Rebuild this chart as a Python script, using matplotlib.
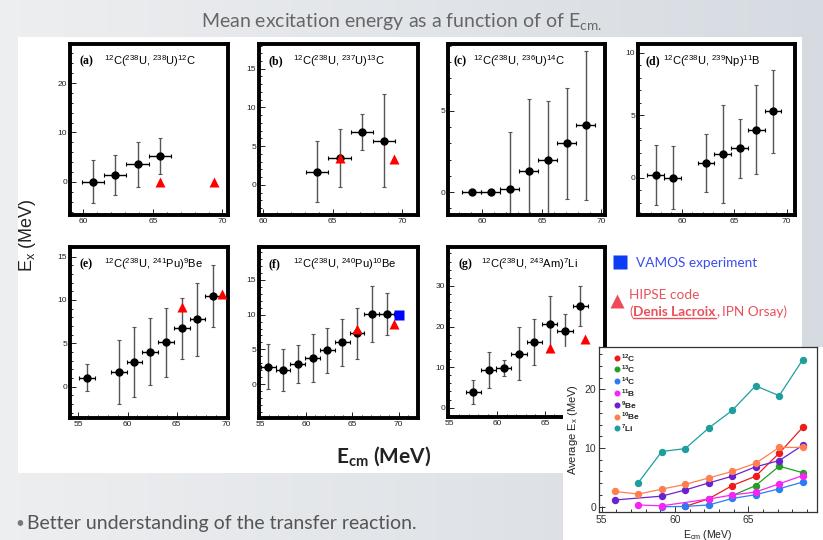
import numpy as np
import matplotlib
matplotlib.use("Agg")
import matplotlib.pyplot as plt
from matplotlib.patches import Rectangle
from matplotlib.lines import Line2D
from matplotlib.transforms import IdentityTransform
from matplotlib.ticker import MultipleLocator

W, H = 823, 540
plt.rcParams['font.family'] = ['Liberation Sans', 'DejaVu Sans']

# ---------------- data ----------------
labels = ['(a)', '(b)', '(c)', '(d)', '(e)', '(f)', '(g)']
reactions = [r'$^\mathregular{12}$C($^\mathregular{238}$U, $^\mathregular{238}$U)$^\mathregular{12}$C',
             r'$^\mathregular{12}$C($^\mathregular{238}$U, $^\mathregular{237}$U)$^\mathregular{13}$C',
             r'$^\mathregular{12}$C($^\mathregular{238}$U, $^\mathregular{236}$U)$^\mathregular{14}$C',
             r'$^\mathregular{12}$C($^\mathregular{238}$U, $^\mathregular{239}$Np)$^\mathregular{11}$B',
             r'$^\mathregular{12}$C($^\mathregular{238}$U, $^\mathregular{241}$Pu)$^\mathregular{9}$Be',
             r'$^\mathregular{12}$C($^\mathregular{238}$U, $^\mathregular{240}$Pu)$^\mathregular{10}$Be',
             r'$^\mathregular{12}$C($^\mathregular{238}$U, $^\mathregular{243}$Am)$^\mathregular{7}$Li']

x_a = [60.7, 62.3, 63.9, 65.5]
y_a = [0.05, 1.35, 3.6, 5.2]
ey_a = [4.4, 4.1, 4.55, 3.7]
hx_a = [65.5, 69.4]
hy_a = [0.0, 0.0]

x_b = [63.9, 65.5, 67.1, 68.7]
y_b = [1.7, 3.45, 6.8, 5.7]
ey_b = [3.9, 3.7, 2.35, 6.0]
hx_b = [65.5, 69.4]
hy_b = [3.45, 3.3]

x_c = [59.1, 60.7, 62.3, 63.9, 65.5, 67.1, 68.7]
y_c = [0.0, 0.0, 0.2, 1.3, 2.0, 3.0, 4.1]
ey_c = [0.0, 0.0, 3.5, 4.4, 3.6, 3.4, 4.6]

x_d = [57.5, 59.1, 62.3, 63.9, 65.5, 67.1, 68.7]
y_d = [0.2, 0.0, 1.15, 1.9, 2.35, 3.85, 5.3]
ey_d = [2.4, 2.5, 2.3, 3.9, 2.35, 3.55, 3.35]

x_e = [55.9, 59.1, 60.7, 62.3, 63.9, 65.5, 67.1, 68.7]
y_e = [1.05, 1.7, 2.85, 4.05, 5.1, 6.75, 7.75, 10.45]
ey_e = [1.55, 3.7, 4.0, 3.9, 3.95, 3.5, 4.15, 3.55]
hx_e = [65.5, 69.6]
hy_e = [9.2, 10.65]

x_f = [55.9, 57.5, 59.1, 60.7, 62.3, 63.9, 65.5, 67.1, 68.7]
y_f = [2.55, 2.05, 2.9, 3.75, 4.85, 6.0, 7.3, 10.05, 10.05]
ey_f = [3.2, 3.0, 2.75, 3.45, 3.2, 3.4, 3.7, 4.0, 3.05]
hx_f = [65.5, 69.5]
hy_f = [7.9, 8.65]
vx_f = [70.0]
vy_f = [9.9]

x_g = [57.5, 59.1, 60.7, 62.3, 63.9, 65.5, 67.1, 68.7]
y_g = [3.85, 9.25, 9.85, 13.35, 16.2, 20.6, 18.9, 25.0]
ey_g = [3.05, 4.5, 1.95, 6.45, 5.75, 6.9, 4.2, 4.9]
hx_g = [65.5, 69.2]
hy_g = [14.8, 17.0]

xerr_all = 0.8

# inset (average Ex vs Ecm)
inset_names = [r'$^\mathregular{12}$C', r'$^\mathregular{13}$C', r'$^\mathregular{14}$C', r'$^\mathregular{11}$B',
               r'$^\mathregular{9}$Be', r'$^\mathregular{10}$Be', r'$^\mathregular{7}$Li']
ix_12C = [60.7, 62.3, 63.9, 65.5, 67.1, 68.7]
iy_12C = [0.05, 1.35, 3.6, 5.2, 9.1, 13.5]
ix_13C = [63.9, 65.5, 67.1, 68.7]
iy_13C = [1.9, 3.6, 6.9, 5.8]
ix_14C = [59.1, 60.7, 62.3, 63.9, 65.5, 67.1, 68.7]
iy_14C = [0.0, 0.05, 0.3, 1.4, 2.05, 3.05, 4.2]
ix_11B = [57.5, 59.1, 62.3, 63.9, 65.5, 67.1, 68.7]
iy_11B = [0.3, 0.15, 1.3, 2.0, 2.5, 3.9, 5.3]
ix_9Be = [55.9, 59.1, 60.7, 62.3, 63.9, 65.5, 67.1, 68.7]
iy_9Be = [1.15, 1.8, 2.85, 4.05, 5.2, 6.8, 7.85, 10.45]
ix_10Be = [55.9, 57.5, 59.1, 60.7, 62.3, 63.9, 65.5, 67.1, 68.7]
iy_10Be = [2.6, 2.15, 3.0, 3.8, 4.9, 6.0, 7.4, 10.1, 10.1]
ix_7Li = [57.5, 59.1, 60.7, 62.3, 63.9, 65.5, 67.1, 68.7]
iy_7Li = [4.1, 9.4, 9.9, 13.4, 16.4, 20.6, 18.9, 25.0]
inset_colors = ['#f01a1a', '#21a021', '#2a7df5', '#f524f5', '#6a22d0', '#ff7f50', '#1f9e9e']

# ---------------- figure ----------------
fig = plt.figure(figsize=(W / 100, H / 100), dpi=100)


def rect(L, R, T, B):
    return [L / W, 1 - B / H, (R - L) / W, (B - T) / H]


def ptext(x, y, s, **kw):
    return fig.text(x, H - y, s, transform=IdentityTransform(), **kw)


# background
bg = fig.add_axes([0, 0, 1, 1], zorder=-3)
gx = np.linspace(0, 1, 200)
c0 = np.array([0.93, 0.935, 0.94])
c1 = np.array([0.84, 0.86, 0.885])
img = (c0[None, None, :] * (1 - gx[None, :, None]) + c1[None, None, :] * gx[None, :, None])
img = np.repeat(img, 2, axis=0)
bg.imshow(img, aspect='auto', extent=[0, 1, 0, 1])
bg.set_axis_off()
fig.patches.append(Rectangle((18 / W, 1 - 473 / H), (802 - 18) / W, (473 - 37) / H,
                             transform=fig.transFigure, facecolor='white', edgecolor='none', zorder=-2))

panel_rects = [(70, 228, 44, 215), (259, 418, 44, 215), (448, 605, 44, 215), (638, 795, 44, 215),
               (70, 228, 247, 418), (259, 418, 247, 418), (448, 605, 247, 417)]
xlims = [(59.05, 70.4), (59.7, 71.15), (57.1, 70.3), (55.8, 70.8), (54.15, 70.2), (54.9, 72.1), (54.85, 71.3)]
ylims = [(-6.7, 27.9), (-3.9, 18.2), (-1.4, 9.1), (-3.0, 10.7), (-3.6, 16.1), (-4.84, 19.7), (-2.3, 39.6)]
ymaj = [10, 5, 5, 5, 5, 5, 10]
ymin = [2, 1, 1, 1, 1, 1, 2]
lab_x = [0.063, 0.057, 0.035, 0.045, 0.063, 0.057, 0.07]
rea_x = [0.215, 0.215, 0.16, 0.16, 0.215, 0.215, 0.21]

data = [(x_a, y_a, ey_a), (x_b, y_b, ey_b), (x_c, y_c, ey_c), (x_d, y_d, ey_d),
        (x_e, y_e, ey_e), (x_f, y_f, ey_f), (x_g, y_g, ey_g)]
hipse = {0: (hx_a, hy_a), 1: (hx_b, hy_b), 4: (hx_e, hy_e), 5: (hx_f, hy_f), 6: (hx_g, hy_g)}

for i, (L, R, T, B) in enumerate(panel_rects):
    ax = fig.add_axes(rect(L, R, T, B))
    ax.set_xlim(*xlims[i])
    ax.set_ylim(*ylims[i])
    for s in ax.spines.values():
        s.set_linewidth(2.8)
        s.set_color('black')
    ax.xaxis.set_major_locator(MultipleLocator(5))
    ax.xaxis.set_minor_locator(MultipleLocator(1))
    ax.yaxis.set_major_locator(MultipleLocator(ymaj[i]))
    ax.yaxis.set_minor_locator(MultipleLocator(ymin[i]))
    ax.tick_params(which='both', direction='in', top=False, right=False, width=0.7,
                   labelsize=6, pad=2, colors='#222222')
    ax.tick_params(which='major', length=4)
    ax.tick_params(which='minor', length=2)
    x, y, ey = data[i]
    ax.errorbar(x, y, yerr=ey, fmt='none', ecolor='#555555', elinewidth=1.0, capsize=1.5, capthick=0.8)
    ax.errorbar(x, y, xerr=xerr_all, fmt='none', ecolor='black', elinewidth=1.0, capsize=1.5, capthick=0.8)
    ax.plot(x, y, 'o', color='black', ms=5, zorder=4)
    if i in hipse:
        hx, hy = hipse[i]
        ax.plot(hx, hy, '^', color='#ff0000', ms=7, mec='none', zorder=5, clip_on=False)
    if i == 5:
        ax.plot(vx_f, vy_f, 's', color='#0000ff', ms=6.5, mec='none', zorder=6, clip_on=False)
    ax.text(lab_x[i], 0.90, labels[i], transform=ax.transAxes, fontfamily='Liberation Serif',
            fontweight='bold', fontsize=8.5, va='center', ha='left')
    ax.text(rea_x[i], 0.90, reactions[i], transform=ax.transAxes, fontsize=8, va='center', ha='left')

# inset
fig.patches.append(Rectangle((563 / W, 0), (823 - 563) / W, (540 - 347) / H,
                             transform=fig.transFigure, facecolor='white', edgecolor='none', zorder=1.5))
axi = fig.add_axes(rect(599, 817, 347, 512))
axi.set_zorder(2)
axi.set_xlim(54.82, 69.68)
axi.set_ylim(-0.9, 27.2)
for s in axi.spines.values():
    s.set_linewidth(0.9)
    s.set_color('#333333')
axi.xaxis.set_major_locator(MultipleLocator(5))
axi.xaxis.set_minor_locator(MultipleLocator(1))
axi.yaxis.set_major_locator(MultipleLocator(10))
axi.yaxis.set_minor_locator(MultipleLocator(2))
axi.tick_params(which='both', direction='in', top=False, right=False, width=0.7,
                labelsize=7.5, pad=2, colors='#333333')
axi.tick_params(which='major', length=4)
axi.tick_params(which='minor', length=2)
series = [(ix_12C, iy_12C), (ix_13C, iy_13C), (ix_14C, iy_14C), (ix_11B, iy_11B),
          (ix_9Be, iy_9Be), (ix_10Be, iy_10Be), (ix_7Li, iy_7Li)]
for k, (sx, sy) in enumerate(series):
    axi.plot(sx, sy, '-o', color=inset_colors[k], lw=0.9, ms=4.3)
leg_y0 = 357.5
for k in range(7):
    yy = leg_y0 + 11.8 * k
    fy = 1 - (yy - 347) / (512 - 347)
    fx = (616.7 - 599) / (817 - 599)
    axi.plot([fx], [fy], 'o', color=inset_colors[k], ms=3.3, transform=axi.transAxes, clip_on=False)
    axi.text(fx + 0.02, fy, inset_names[k], transform=axi.transAxes, fontsize=6,
             fontweight='bold', va='center', ha='left', color='#222222')
axi.set_ylabel(r'Average E$_\mathregular{x}$ (MeV)', fontsize=8, labelpad=3, color='#222222')
axi.set_xlabel(r'E$_\mathregular{cm}$ (MeV)', fontsize=7.5, labelpad=2, color='#222222')

# slide texts
ptext(401, 22, r'Mean excitation energy as a function of of E$_\mathregular{cm.}$', fontfamily='Lato',
      fontsize=14, color='#666666', ha='center', va='center')
ptext(28, 235, r'E$_\mathregular{x}$ (MeV)', fontsize=13, rotation=90, ha='center', va='center',
      color='#222222')
ptext(384, 457, r'E$_\mathregular{cm}$ (MeV)', fontfamily='Lato', fontweight='bold', fontsize=15,
      ha='center', va='center', color='#222222')
ptext(15, 524, '\u2022', fontfamily='Lato', fontsize=11, color='#777777', ha='left', va='center')
ptext(27, 523, 'Better understanding of the transfer reaction.', fontfamily='Lato', fontsize=14,
      color='#555555', ha='left', va='center')

# legend
fig.add_artist(Line2D([620 / W], [1 - 262 / H], marker='s', ms=10, color='#0d3cf5', mec='none',
                      transform=fig.transFigure))
ptext(636, 263, 'VAMOS experiment', fontfamily='Lato', fontsize=9.8, color='#3a4ef0', ha='left', va='center')
fig.add_artist(Line2D([617 / W], [1 - 301 / H], marker='^', ms=10, color='#f04a5a', mec='none',
                      transform=fig.transFigure))
ptext(629, 295, 'HIPSE code', fontfamily='Lato', fontsize=9.8, color='#e8505a', ha='left', va='center')

renderer = fig.canvas.get_renderer()
xx = 629
red = '#e8505a'
t1 = ptext(xx, 316, '(', fontfamily='Lato', fontsize=9.8, color=red, ha='left', va='baseline')
xx = t1.get_window_extent(renderer).x1 + 0.5
t2 = ptext(xx, 316, 'Denis Lacroix', fontfamily='Lato', fontweight='bold', fontsize=9.8, color=red,
           ha='left', va='baseline')
bb = t2.get_window_extent(renderer)
fig.add_artist(Line2D([bb.x0, bb.x1], [H - 318, H - 318], color=red, lw=1.0, transform=IdentityTransform()))
xx = bb.x1 + 0.5
t3 = ptext(xx, 316, ',', fontfamily='Lato', fontsize=9.8, color=red, ha='left', va='baseline')
xx = t3.get_window_extent(renderer).x1 + 3
ptext(xx, 316, 'IPN Orsay)', fontfamily='Lato', fontsize=9.8, color=red, ha='left', va='baseline')

fig.savefig('out.png', dpi=100)
